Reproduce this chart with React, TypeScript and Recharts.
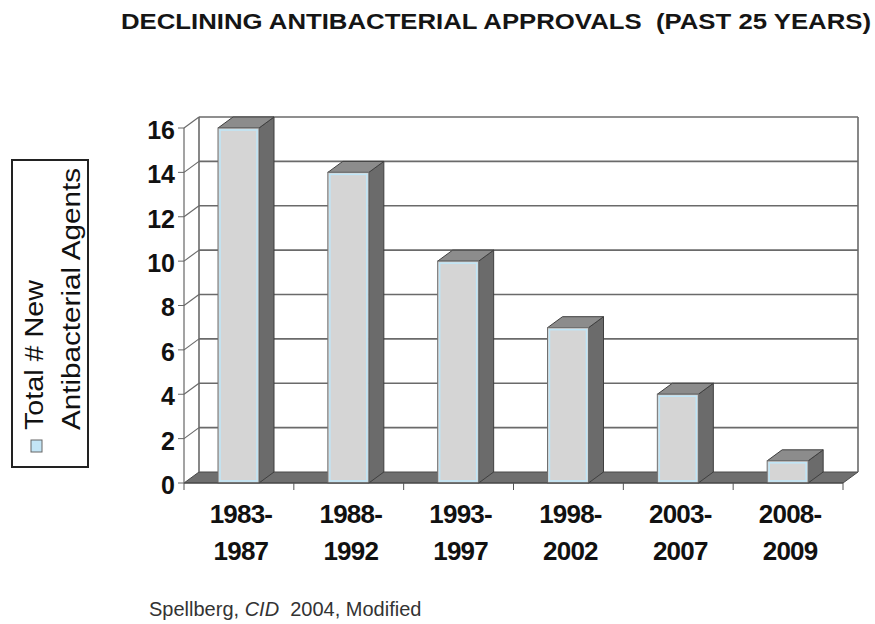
import { BarChart, Bar, XAxis, YAxis, CartesianGrid } from 'recharts'

const periods = ['1983-1987', '1988-1992', '1993-1997', '1998-2002', '2003-2007', '2008-2009']
const newAgents = [16, 14, 10, 7, 4, 1]
const yTicks = [0, 2, 4, 6, 8, 10, 12, 14, 16]

const data = periods.map((period, i) => ({ period, agents: newAgents[i] }))

// depth of the fake 3d box
const DX = 15
const DY = -11
const FONT = '"Liberation Sans", Arial, sans-serif'

function WallLine(props: any) {
  const { x1, x2, y1, y, height, index } = props
  const bottom = y + height
  const top = y
  if (Math.abs(y1 - bottom) < 0.5) {
    // floor slab
    return (
      <g key={`wall-${index}`}>
        <polygon
          points={`${x1},${y1} ${x2},${y1} ${x2 + DX},${y1 + DY} ${x1 + DX},${y1 + DY}`}
          fill="#6f6f6f"
          stroke="#4a4a4a"
          strokeWidth={1}
        />
      </g>
    )
  }
  return (
    <g key={`wall-${index}`}>
      <line x1={x1 + DX} y1={y1 + DY} x2={x2 + DX} y2={y1 + DY} stroke="#6a6a6a" strokeWidth={1.6} />
      <line x1={x1} y1={y1} x2={x1 + DX} y2={y1 + DY} stroke="#6a6a6a" strokeWidth={1.2} />
      {Math.abs(y1 - top) < 0.5 && (
        <>
          <line x1={x1 + DX} y1={y1 + DY} x2={x1 + DX} y2={bottom + DY} stroke="#6a6a6a" strokeWidth={1.6} />
          <line x1={x2 + DX} y1={y1 + DY} x2={x2 + DX} y2={bottom + DY} stroke="#6a6a6a" strokeWidth={1.6} />
        </>
      )}
    </g>
  )
}

function Bar3D(props: any) {
  const { x, y, width: w, height: h } = props
  if (h <= 0) return null
  return (
    <g>
      <polygon
        points={`${x + w},${y} ${x + w + DX},${y + DY} ${x + w + DX},${y + h + DY} ${x + w},${y + h}`}
        fill="#6b6b6b"
        stroke="#3f3f3f"
        strokeWidth={1}
      />
      <polygon
        points={`${x},${y} ${x + DX},${y + DY} ${x + w + DX},${y + DY} ${x + w},${y}`}
        fill="#8c8c8c"
        stroke="#3f3f3f"
        strokeWidth={1}
      />
      <rect x={x} y={y} width={w} height={h} fill="#d5d5d5" stroke="#6f6f6f" strokeWidth={1} />
      <rect x={x + 2} y={y + 2} width={w - 4} height={h - 4} fill="none" stroke="#bfe6f8" strokeWidth={1.5} />
    </g>
  )
}

function PeriodTick(props: any) {
  const { x, y, payload, index } = props
  const [from, to] = String(payload.value).split('-')
  const half = payload.offset ?? 0
  return (
    <g>
      {index === 0 && <line x1={x - half} y1={y} x2={x - half} y2={y + 7} stroke="#555" />}
      <line x1={x + half} y1={y} x2={x + half} y2={y + 7} stroke="#555" />
      <text
        x={x + 2}
        y={y}
        textAnchor="middle"
        fontFamily={FONT}
        fontSize={26}
        fontWeight="bold"
        letterSpacing={-0.8}
        fill="#111"
      >
        <tspan x={x + 2} dy={40}>{from}-</tspan>
        <tspan x={x + 2} dy={37}>{to}</tspan>
      </text>
    </g>
  )
}

export default function App() {
  return (
    <div style={{ position: 'absolute', left: 0, top: 0, width: 875, height: 624, background: '#fff' }}>
      <BarChart
        width={875}
        height={624}
        data={data}
        barSize={41}
        margin={{ top: 128, right: 32, bottom: 51, left: 114 }}
      >
        <CartesianGrid horizontal={WallLine} vertical={false} />
        <XAxis
          dataKey="period"
          height={90}
          axisLine={{ stroke: '#444', strokeWidth: 1.2 }}
          tickLine={false}
          tickSize={0}
          tickMargin={0}
          tick={<PeriodTick />}
          interval={0}
        />
        <YAxis
          width={70}
          domain={[0, 16]}
          ticks={yTicks}
          axisLine={{ stroke: '#666', strokeWidth: 1.2 }}
          tickLine={{ stroke: '#666' }}
          tickSize={6}
          tickMargin={3}
          tick={{ fontFamily: FONT, fontSize: 25, fontWeight: 'bold', fill: '#111', dy: 2 }}
        />
        <Bar dataKey="agents" shape={<Bar3D />} isAnimationActive={false} />
      </BarChart>

      <svg
        width={875}
        height={624}
        style={{ position: 'absolute', left: 0, top: 0, pointerEvents: 'none' }}
      >
        <text
          x={121}
          y={29}
          fontFamily={FONT}
          fontSize={22}
          fontWeight="bold"
          fill="#151515"
          textLength={750}
          lengthAdjust="spacingAndGlyphs"
        >
          {'DECLINING ANTIBACTERIAL APPROVALS\u00A0 (PAST 25 YEARS)'}
        </text>

        <rect x={12} y={160} width={76} height={307} fill="#fff" stroke="#222" strokeWidth={2} />
        <rect x={31} y={440} width={11} height={12} fill="#c3e5f6" stroke="#666" strokeWidth={1} />
        <text
          transform="translate(43,430) rotate(-90)"
          fontFamily={FONT}
          fontSize={25}
          fill="#111"
          textLength={150}
          lengthAdjust="spacingAndGlyphs"
        >
          Total # New
        </text>
        <text
          transform="translate(80,430) rotate(-90)"
          fontFamily={FONT}
          fontSize={25}
          fill="#111"
          textLength={262}
          lengthAdjust="spacingAndGlyphs"
        >
          Antibacterial Agents
        </text>

        <text x={149} y={616} fontFamily={FONT} fontSize={20} fill="#333">
          {'Spellberg, '}
          <tspan fontStyle="italic">CID</tspan>
          {'\u00A0 2004, Modified'}
        </text>
      </svg>
    </div>
  )
}
